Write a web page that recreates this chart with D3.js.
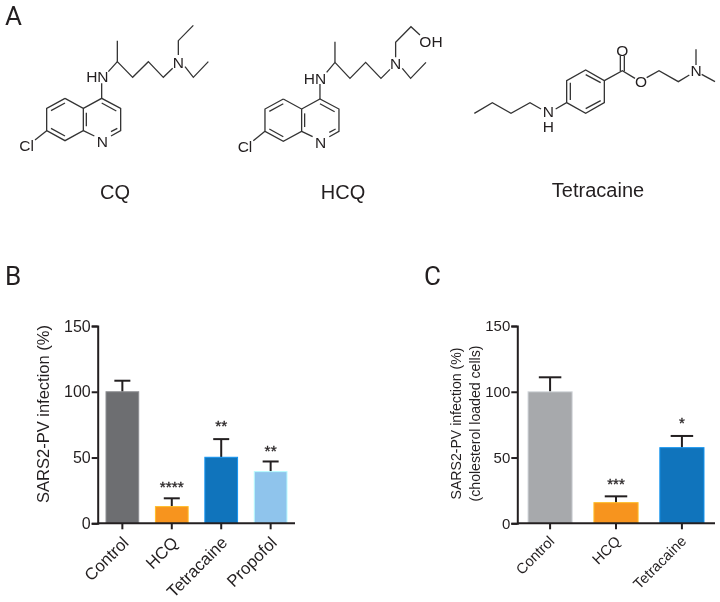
<!DOCTYPE html>
<html><head><meta charset="utf-8">
<script src="https://cdn.jsdelivr.net/npm/d3@7"></script>
<style>html,body{margin:0;background:#fff}svg{display:block;filter:blur(0.35px)}text{font-family:"Liberation Sans",Arial,sans-serif;fill:#231f20}</style>
</head><body><svg id="c" width="720" height="602"></svg>
<script>
// Panel B data
const catsB = ["Control","HCQ","Tetracaine","Propofol"];
const valsB = [100,12.7,50.2,39.3];
const errB  = [108.4,19,64,47];
const starsB = ["","****","**","**"];
const starPosB = [null,29,76,57];
const colorsB = ["#6d6e71","#f7941e","#1074bc","#8fc4ec"];
// Panel C data
const catsC = ["Control","HCQ","Tetracaine"];
const valsC = [100,15.7,57.5];
const errC  = [111,20.5,66.4];
const starsC = ["","***","*"];
const starPosC = [null,31.7,77.8];
const colorsC = ["#a7a9ac","#f7941e","#1074bc"];
const yTicks = [0,50,100,150];

const svg = d3.select("#c");
const ink = "#231f20";

function barPanel(o){
  const g = svg.append("g");
  const y = d3.scaleLinear().domain([0,150]).range([523.3,326]);
  const x = d3.scaleBand().domain(o.cats).range([o.x0,o.x1]).paddingInner(o.pad).paddingOuter(0).align(0);
  const b = x.bandwidth();
  o.cats.forEach((c,i)=>{
    const cx = x(c)+b/2;
    g.append("line").attr("x1",cx).attr("x2",cx).attr("y1",y(o.vals[i])).attr("y2",y(o.err[i])).attr("stroke",ink).attr("stroke-width",2);
    g.append("line").attr("x1",cx-o.cap/2).attr("x2",cx+o.cap/2).attr("y1",y(o.err[i])).attr("y2",y(o.err[i])).attr("stroke",ink).attr("stroke-width",2);
    g.append("rect").attr("x",x(c)).attr("width",b).attr("y",y(o.vals[i])).attr("height",y(0)-y(o.vals[i]))
      .attr("fill",o.colors[i]).attr("stroke",d3.color(o.colors[i]).brighter(0.7)).attr("stroke-width",1);
    if(o.stars[i]) g.append("text").attr("x",cx).attr("y",y(o.starPos[i])+7.2).attr("text-anchor","middle").attr("font-size",o.starSize)
      .attr("stroke",ink).attr("stroke-width",0.3).text(o.stars[i]);
  });
  const ay = g.append("g").attr("transform",`translate(${o.axisX},0)`).call(d3.axisLeft(y).tickValues(yTicks).tickSize(6).tickPadding(1));
  const ax = g.append("g").attr("transform",`translate(0,${y(0)})`).call(d3.axisBottom(x).tickSize(6).tickSizeOuter(0));
  ax.select(".domain").attr("d",`M${o.axisX},0H${o.axisEnd}`);
  [ay,ax].forEach(a=>{a.selectAll(".domain,.tick line").attr("stroke",ink).attr("stroke-width",2);});
  ay.selectAll("text").attr("font-size",o.tickFont).attr("fill",ink).style("font-family",'"Liberation Sans"');
  ax.selectAll("text").attr("font-size",o.catFont).attr("fill",ink).style("font-family",'"Liberation Sans"')
    .attr("text-anchor","end").attr("transform","rotate(-45)").attr("dx","0.1em").attr("dy","0.75em").attr("y",o.catY).attr("x",o.catX);
  o.title.forEach((t,i)=>{
    g.append("text").attr("transform",`translate(${o.titleX[i]},${o.titleY}) rotate(-90)`).attr("text-anchor","middle").attr("font-size",o.titleFont).text(t);
  });
}
barPanel({cats:catsB,vals:valsB,err:errB,stars:starsB,starPos:starPosB,colors:colorsB,x0:106,x1:287,pad:.338,cap:16,
  axisX:97.7,axisEnd:295,tickFont:16,catFont:16.8,catX:-11,catY:7,title:["SARS2-PV infection (%)"],titleX:[49],titleY:414,titleFont:16.5,starSize:15.5});
barPanel({cats:catsC,vals:valsC,err:errC,stars:starsC,starPos:starPosC,colors:colorsC,x0:528,x1:704,pad:.33,cap:22.5,
  axisX:517.3,axisEnd:715,tickFont:15,catFont:14.7,catX:-11,catY:6,title:["SARS2-PV infection (%)","(cholesterol loaded cells)"],titleX:[461,479.5],titleY:423.5,titleFont:14.1,starSize:15});

// Panel letters
const panelLetters = [["A",5,24.5],["B",5,285],["C",424,285]];
panelLetters.forEach(l=>svg.append("text").attr("x",l[1]).attr("y",l[2]).attr("font-size",26).style("font-family",'Roboto').text(l[0]));

// Structures: paths in 3x crop units, drawn through a scale
const line = d3.line();
const CORE = {
  bonds:[[[195,295],[140,325],[140,392],[195,422],[250,392],[250,325],[195,295]],
         [[250,325],[305,295],[362,325],[362,392],[333,408]],[[283,408],[250,392]],
         [[195,309],[153,332]],[[153,385],[195,408]],[[259,338],[259,379]],
         [[305,309],[349,333]],[[333,395],[352,385]],[[140,392],[105,420]]],
  labels:[["N",307,424],["Cl",80,436]]
};
const CQ = {
  bonds:[[[305,295],[305,250]],[[325,215],[352,185],[398,232],[445,185],[490,232],[518,205]],[[352,185],[352,122]],
         [[535,165],[535,122],[580,76]],[[555,200],[580,232],[625,185]]],
  labels:[["HN",292,230],["N",535,186]]
};
const HCQ = {
  bonds:[[[305,295],[305,250]],[[325,215],[350,185],[395,233],[442,185],[488,233],[515,206]],[[350,185],[350,123]],
         [[532,170],[532,125],[578,78],[605,103]],[[552,203],[577,233],[623,185]]],
  labels:[["HN",290,232],["N",532,188],["OH",638,123]]
};
const TET = {
  bonds:[[[43,250],[97,218],[153,250],[210,218],[243,237]],[[287,237],[320,218],[320,152],[377,120],[433,152],[433,218],[377,250],[320,218]],
         [[331,210],[331,158]],[[377,134],[422,158]],[[377,236],[422,212]],
         [[433,152],[487,122],[525,145]],[[481,124],[481,78]],[[493,124],[493,78]],
         [[560,143],[597,122],[655,155],[688,135]],[[708,105],[708,58]],[[725,133],[765,155]]],
  labels:[["N\nH",265,245],["O",487,60],["O",543,155],["N",708,122]]
};
function drawMol(mol,dx,dy){
  const sx = d3.scaleLinear().domain([0,3]).range([dx,dx+1]);
  const sy = d3.scaleLinear().domain([0,3]).range([dy,dy+1]);
  const g = svg.append("g");
  mol.bonds.forEach(p=>g.append("path").attr("d",line(p.map(q=>[sx(q[0]),sy(q[1])]))).attr("fill","none").attr("stroke","#333").attr("stroke-width",1.3));
  mol.labels.forEach(l=>{
    const t = g.append("text").attr("x",sx(l[1])).attr("y",sy(l[2])+5.5).attr("text-anchor","middle").attr("font-size",15.5);
    l[0].split("\n").forEach((s,i)=>t.append("tspan").attr("x",sx(l[1])).attr("dy",i?15:0).text(s));
  });
}
drawMol(CORE,0,0); drawMol(CQ,0,0);
drawMol(CORE,218.3,0.7); drawMol(HCQ,218.3,0.7);
drawMol(TET,460,30);

const molNames = [["CQ",115,198.5],["HCQ",343,198.5],["Tetracaine",598,196.7]];
molNames.forEach(n=>svg.append("text").attr("x",n[1]).attr("y",n[2]).attr("text-anchor","middle").attr("font-size",20).text(n[0]));
</script></body></html>
